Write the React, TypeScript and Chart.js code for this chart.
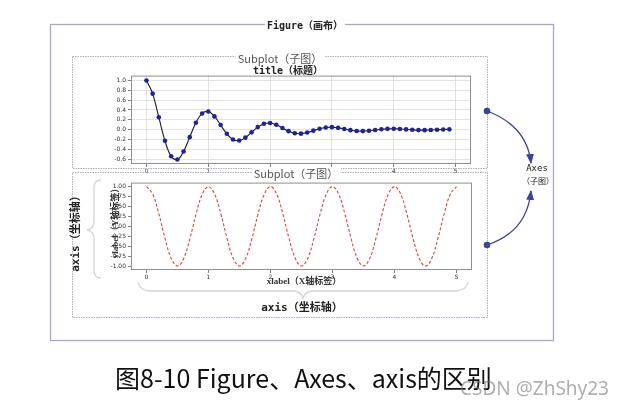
import React, { useEffect, useRef } from "react";
import { Chart, registerables } from "chart.js";
Chart.register(...registerables);

// ---- data ----
const TOP_T = [0, 0.1, 0.2, 0.3, 0.4, 0.5, 0.6, 0.7, 0.8, 0.9, 1.0, 1.1, 1.2, 1.3, 1.4, 1.5, 1.6, 1.7, 1.8, 1.9, 2.0, 2.1, 2.2, 2.3, 2.4, 2.5, 2.6, 2.7, 2.8, 2.9, 3.0, 3.1, 3.2, 3.3, 3.4, 3.5, 3.6, 3.7, 3.8, 3.9, 4.0, 4.1, 4.2, 4.3, 4.4, 4.5, 4.6, 4.7, 4.8, 4.9];
const TOP_Y = [1.0, 0.732, 0.253, -0.229, -0.542, -0.607, -0.444, -0.153, 0.139, 0.329, 0.368, 0.269, 0.093, -0.084, -0.2, -0.223, -0.163, -0.056, 0.051, 0.121, 0.135, 0.099, 0.034, -0.031, -0.073, -0.082, -0.06, -0.021, 0.019, 0.044, 0.05, 0.036, 0.013, -0.011, -0.027, -0.03, -0.022, -0.008, 0.007, 0.016, 0.018, 0.013, 0.005, -0.004, -0.01, -0.011, -0.008, -0.003, 0.003, 0.006];
const BOTTOM_T = [0, 0.1, 0.2, 0.3, 0.4, 0.5, 0.6, 0.7, 0.8, 0.9, 1.0, 1.1, 1.2, 1.3, 1.4, 1.5, 1.6, 1.7, 1.8, 1.9, 2.0, 2.1, 2.2, 2.3, 2.4, 2.5, 2.6, 2.7, 2.8, 2.9, 3.0, 3.1, 3.2, 3.3, 3.4, 3.5, 3.6, 3.7, 3.8, 3.9, 4.0, 4.1, 4.2, 4.3, 4.4, 4.5, 4.6, 4.7, 4.8, 4.9, 5.0];
const BOTTOM_Y = [1, 0.809, 0.309, -0.309, -0.809, -1, -0.809, -0.309, 0.309, 0.809, 1, 0.809, 0.309, -0.309, -0.809, -1, -0.809, -0.309, 0.309, 0.809, 1, 0.809, 0.309, -0.309, -0.809, -1, -0.809, -0.309, 0.309, 0.809, 1, 0.809, 0.309, -0.309, -0.809, -1, -0.809, -0.309, 0.309, 0.809, 1, 0.809, 0.309, -0.309, -0.809, -1, -0.809, -0.309, 0.309, 0.809, 1];
const X_TICKS = [0, 1, 2, 3, 4, 5];
const TOP_Y_TICKS = [-0.6, -0.4, -0.2, 0, 0.2, 0.4, 0.6, 0.8, 1.0];
const BOTTOM_Y_TICKS = [-1, -0.75, -0.5, -0.25, 0, 0.25, 0.5, 0.75, 1];

const framePlugin = {
  id: "frame",
  afterDraw(chart: any) {
    const { ctx, chartArea: a } = chart;
    ctx.save();
    ctx.strokeStyle = "#8f8f8f";
    ctx.lineWidth = 1;
    ctx.strokeRect(a.left + 0.5, a.top + 0.5, a.right - a.left - 1, a.bottom - a.top - 1);
    ctx.restore();
  },
};

function makeScales(yMin: number, yMax: number, yTicks: number[], digits: number, gridColor: string, xH: number) {
  const tickFont = { size: 6, family: "DejaVu Sans" };
  return {
    x: {
      type: "linear",
      min: -0.25,
      max: 5.25,
      afterBuildTicks: (s: any) => { s.ticks = X_TICKS.map((v) => ({ value: v })); },
      afterFit: (s: any) => { s.height = xH; },
      grid: { color: gridColor, lineWidth: 0.8, tickLength: 3, tickColor: "#666" },
      border: { display: false },
      ticks: { font: tickFont, color: "#333", padding: 1, maxRotation: 0, autoSkip: false, callback: (v: any) => Number(v).toFixed(0) },
    },
    y: {
      type: "linear",
      min: yMin,
      max: yMax,
      afterBuildTicks: (s: any) => { s.ticks = yTicks.map((v) => ({ value: v })); },
      afterFit: (s: any) => { s.width = 31; },
      grid: { color: gridColor, lineWidth: 0.8, tickLength: 3, tickColor: "#666" },
      border: { display: false },
      ticks: { font: tickFont, color: "#333", padding: 2, autoSkip: false, callback: (v: any) => Number(v).toFixed(digits) },
    },
  };
}

function ChartBox({ left, top, width, height, config }: any) {
  const ref = useRef<HTMLCanvasElement>(null);
  useEffect(() => {
    const c = new Chart(ref.current as HTMLCanvasElement, config);
    return () => c.destroy();
  }, []);
  return <canvas ref={ref} width={width} height={height} style={{ position: "absolute", left, top, width, height }} />;
}

const topConfig: any = {
  type: "line",
  data: {
    datasets: [{
      data: TOP_T.map((t, i) => ({ x: t, y: TOP_Y[i] })),
      borderColor: "#1e1e1e",
      borderWidth: 1.1,
      tension: 0.4,
      pointRadius: 2.3,
      pointBackgroundColor: "#1d22a5",
      pointBorderWidth: 0,
      fill: false,
    }],
  },
  options: {
    animation: false,
    responsive: false,
    events: [],
    layout: { padding: { top: 5, right: 9, left: 0, bottom: 0 } },
    plugins: { legend: { display: false }, tooltip: { enabled: false } },
    scales: makeScales(-0.7, 1.1, TOP_Y_TICKS, 1, "#dcdcdc", 10),
  },
  plugins: [framePlugin],
};

const bottomConfig: any = {
  type: "line",
  data: {
    datasets: [{
      data: BOTTOM_T.map((t, i) => ({ x: t, y: BOTTOM_Y[i] })),
      borderColor: "#d9473c",
      borderWidth: 1.1,
      borderDash: [3, 2],
      tension: 0.4,
      pointRadius: 0,
      fill: false,
    }],
  },
  options: {
    animation: false,
    responsive: false,
    events: [],
    layout: { padding: { top: 5, right: 8, left: 0, bottom: 0 } },
    plugins: { legend: { display: false }, tooltip: { enabled: false } },
    scales: makeScales(-1.1, 1.1, BOTTOM_Y_TICKS, 2, "rgba(0,0,0,0)", 11),
  },
  plugins: [framePlugin],
};

const MONO = "'DejaVu Sans Mono', 'Noto Sans CJK SC', monospace";
const SANS = "'Noto Sans CJK SC', 'Noto Sans', sans-serif";
const SERIF = "'Liberation Serif', 'Noto Sans CJK SC', serif";

function Label({ x, y, text, size, family, weight = "normal", color = "#222", bg = false, rotate = 0, spacing = 0 }: any) {
  return (
    <div
      style={{
        position: "absolute",
        left: x,
        top: y,
        transform: `translate(-50%, -50%) rotate(${rotate}deg)`,
        whiteSpace: "nowrap",
        fontSize: size,
        fontFamily: family,
        fontWeight: weight,
        color,
        lineHeight: 1.1,
        letterSpacing: spacing,
        background: bg ? "#fff" : "transparent",
        padding: bg ? "0 2px" : 0,
      }}
    >
      {text}
    </div>
  );
}

export default function App() {
  const arrow = "#3c4399";
  return (
    <div style={{ position: "fixed", left: 0, top: 0, width: 625, height: 408, background: "#fff", overflow: "hidden" }}>
      <ChartBox left={100} top={70} width={380} height={104} config={topConfig} />
      <ChartBox left={100} top={177} width={380} height={104} config={bottomConfig} />
      <svg width={625} height={408} style={{ position: "absolute", left: 0, top: 0 }}>
        <defs>
          <marker id="ah" markerWidth={10} markerHeight={8} refX={9} refY={4} orient="auto" markerUnits="userSpaceOnUse">
            <path d="M0,0 L10,4 L0,8 z" fill={arrow} />
          </marker>
        </defs>
        <rect x={50.5} y={24.5} width={503} height={316} fill="none" stroke="#a3a8cf" strokeWidth={1.3} />
        <rect x={72.5} y={56.5} width={415} height={112} fill="none" stroke="#a9adc6" strokeWidth={1} strokeDasharray="1.5 1" />
        <rect x={72.5} y={172.5} width={415} height={145} fill="none" stroke="#a9adc6" strokeWidth={1} strokeDasharray="1.5 1" />
        <path d="M101,180 Q94,180 94,188 L94,221 Q94,229 87,230 Q94,231 94,239 L94,270 Q94,278 101,278" fill="none" stroke="#d4d4d4" strokeWidth={1.3} />
        <path d="M138,282 Q139,290 150,291 L293,291 Q301,291 303,298 Q305,291 313,291 L456,291 Q467,290 468,282" fill="none" stroke="#d4d4d4" strokeWidth={1.3} />
        <path d="M487,111 Q527,126 531,163" fill="none" stroke={arrow} strokeWidth={1.3} markerEnd="url(#ah)" />
        <path d="M487,245 Q527,232 531,191" fill="none" stroke={arrow} strokeWidth={1.3} markerEnd="url(#ah)" />
        <circle cx={487} cy={111} r={3.3} fill={arrow} />
        <circle cx={487} cy={245} r={3.3} fill={arrow} />
      </svg>
      <Label x={305} y={25} text="Figure（画布）" size={10} family={MONO} weight="bold" bg />
      <Label x={280} y={58} text="Subplot（子图）" size={11} family={SANS} color="#555" bg />
      <Label x={288} y={70} text="title（标题）" size={10} family={MONO} weight="bold" />
      <Label x={296} y={173} text="Subplot（子图）" size={11} family={SANS} color="#555" bg />
      <Label x={304} y={282} text="xlabel（X轴标签）" size={9} family={SERIF} weight="bold" color="#333" />
      <Label x={116} y={221} text="ylabel（Y轴标签）" size={9} family={SERIF} weight="bold" color="#333" rotate={-90} />
      <Label x={76} y={231} text="axis（坐标轴）" size={11} family={MONO} weight="bold" rotate={-90} />
      <Label x={302} y={308} text="axis（坐标轴）" size={11} family={MONO} weight="bold" />
      <Label x={537} y={169} text="Axes" size={9} family={MONO} color="#222" />
      <Label x={538} y={181} text="（子图）" size={8} family={SANS} color="#222" />
      <div style={{ position: "absolute", left: 115, top: 378, transform: "translateY(-50%)", fontSize: 25, fontFamily: SANS, color: "#111", whiteSpace: "nowrap", lineHeight: 1.1 }}>
        图8-10 Figure、Axes、axis的区别
      </div>
      <div style={{ position: "absolute", left: 460, top: 388, transform: "translateY(-50%)", fontSize: 19, fontFamily: "'Noto Sans', sans-serif", color: "rgba(120,120,120,0.6)", whiteSpace: "nowrap", lineHeight: 1.1 }}>
        CSDN @ZhShy23
      </div>
    </div>
  );
}
